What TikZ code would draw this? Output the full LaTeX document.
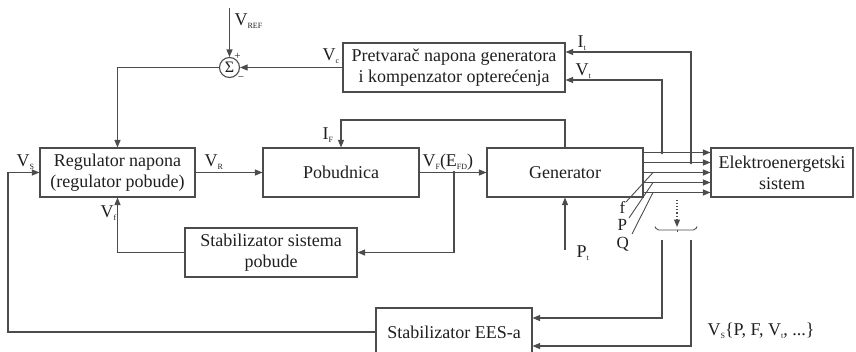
\documentclass[tikz,border=0pt]{standalone}
\usepackage{fontspec}
\setmainfont{Liberation Serif}
\usetikzlibrary{arrows.meta,calc}
\newcommand{\lsub}[1]{\raisebox{-0.45ex}{\fontsize{8}{9}\selectfont #1}}
\definecolor{lc}{gray}{0.3}
\definecolor{tc}{gray}{0.12}
\begin{document}
\begin{tikzpicture}[x=1pt,y=-1pt,
  line width=1.1pt,
  blk/.style={draw=lc, line width=1.1pt, inner sep=0pt, align=center,
    font=\fontsize{18}{21}\selectfont, text=tc},
  arr/.style={draw=lc, -{Triangle[length=7.5pt,width=6pt]}},
  ln/.style={draw=lc},
  lbl/.style={inner sep=0pt, anchor=base west, font=\fontsize{18}{19}\selectfont, text=tc},
  jdot/.style={circle, fill=lc, inner sep=0pt, minimum size=3.6pt}]
\useasboundingbox (0,0) rectangle (856,351);

% blocks
\node[blk, minimum width=155pt, minimum height=49pt] (reg) at (117.5,172.5) {Regulator napona\\(regulator pobude)};
\node[blk, minimum width=156pt, minimum height=49pt] (pob) at (341,172.5) {Pobudnica};
\node[blk, minimum width=156pt, minimum height=49pt] (gen) at (565,172.5) {Generator};
\node[blk, minimum width=142pt, minimum height=49pt] (ees) at (782,172.5) {Elektroenergetski\\sistem};
\node[blk, minimum width=222pt, minimum height=49pt] (pret) at (454,67.5) {Pretvarač napona generatora\\i kompenzator opterećenja};
\node[blk, minimum width=172pt, minimum height=49pt] (ssp) at (271,252.5) {Stabilizator sistema\\pobude};
\node[blk, minimum width=156pt, minimum height=48pt] (ees2) at (454,332) {Stabilizator EES-a};

% summing junction
\node[draw=lc, circle, minimum size=20pt, inner sep=0pt, line width=1.1pt,
  font=\fontsize{16}{16}\selectfont, text=tc] (sum) at (229.5,67.5) {Σ};
\node[inner sep=0pt, font=\fontsize{11}{11}\selectfont, text=tc] (plus) at (237.5,56) {+};
\node[inner sep=0pt, font=\fontsize{11}{11}\selectfont, text=tc] (minus) at (241,79) {−};

% coordinates
\coordinate (vref) at (229.5,8);
\coordinate (ifc) at (341,120);
\coordinate (jf) at (454,172.5);
\coordinate (pt) at (565,250);
\coordinate (j1) at (662,152.5);
\coordinate (j2) at (691,162.5);
\coordinate (b1) at (662,240);
\coordinate (b2) at (691,240);
\coordinate (lc) at (8,332);
\coordinate (d1) at (677,200);
\coordinate (d2) at (677,227);

% connectors
\draw[arr] (vref) -- (sum.north);
\draw[arr] (pret.west) -- (sum.east);
\draw[arr] (sum.west) -| (reg.north);
\draw[arr] (reg.east) -- (pob.west);
\draw[arr] (pob.east) -- (gen.west);
\draw[arr] (jf) |- (ssp.east);
\draw[arr] (ssp.west) -| (reg.south);
\draw[arr] (gen.north) -- (gen.north |- ifc) -| (pob.north);
\draw[arr] (pt) -- (gen.south);
\foreach \s in {20,10,0,-10,-20}
  \draw[arr] ([yshift=\s pt]gen.east) -- ([yshift=\s pt]ees.west);
\draw[arr] (j2) |- ([yshift=15.5pt]pret.east);
\draw[arr] (j1) |- ([yshift=-12.5pt]pret.east);
\node[jdot] at (j1) {};
\node[jdot] at (j2) {};
\draw[arr] (b1) |- ([yshift=14pt]ees2.east);
\draw[arr] (b2) |- ([yshift=-14pt]ees2.east);
\draw[arr] (ees2.west) -- (lc) |- (reg.west);
\node[jdot] at (jf) {};

% measurement symbol
\draw[arr, dotted] (d1) -- (d2);
\draw[ln, line width=0.9pt, rounded corners=2pt] (655,226.5) -- (656.5,230) -- (695.5,230) -- (697,226.5);
\draw[ln, line width=0.9pt] (677,230) -- (677,232);

% f P Q leaders
\draw[ln, line width=0.9pt] (653,172.5) -- (626,202);
\draw[ln, line width=0.9pt] (653,182.5) -- (629,218);
\draw[ln, line width=0.9pt] (653,192.5) -- (632,234);

% labels
\node[lbl] at (234,25) {V\lsub{REF}};
\node[lbl] at (322,60) {V\lsub{c}};
\node[lbl] at (577,47) {I\lsub{t}};
\node[lbl] at (575,75) {V\lsub{t}};
\node[lbl] at (16,166) {V\lsub{S}};
\node[lbl] at (204,166) {V\lsub{R}};
\node[lbl] at (100,217) {V\lsub{f}};
\node[lbl] at (422,166) {V\lsub{F}(E\lsub{FD})};
\node[lbl] at (322,139) {I\lsub{F}};
\node[lbl] at (576,257) {P\lsub{t}};
\node[lbl, font=\fontsize{17}{18}\selectfont] at (619,213) {f};
\node[lbl, font=\fontsize{17}{18}\selectfont] at (617,230) {P};
\node[lbl, font=\fontsize{17}{18}\selectfont] at (616,248) {Q};
\node[lbl] at (707,335) {V\lsub{S}\{P, F, V\lsub{t}, ...\}};
\end{tikzpicture}
\end{document}
